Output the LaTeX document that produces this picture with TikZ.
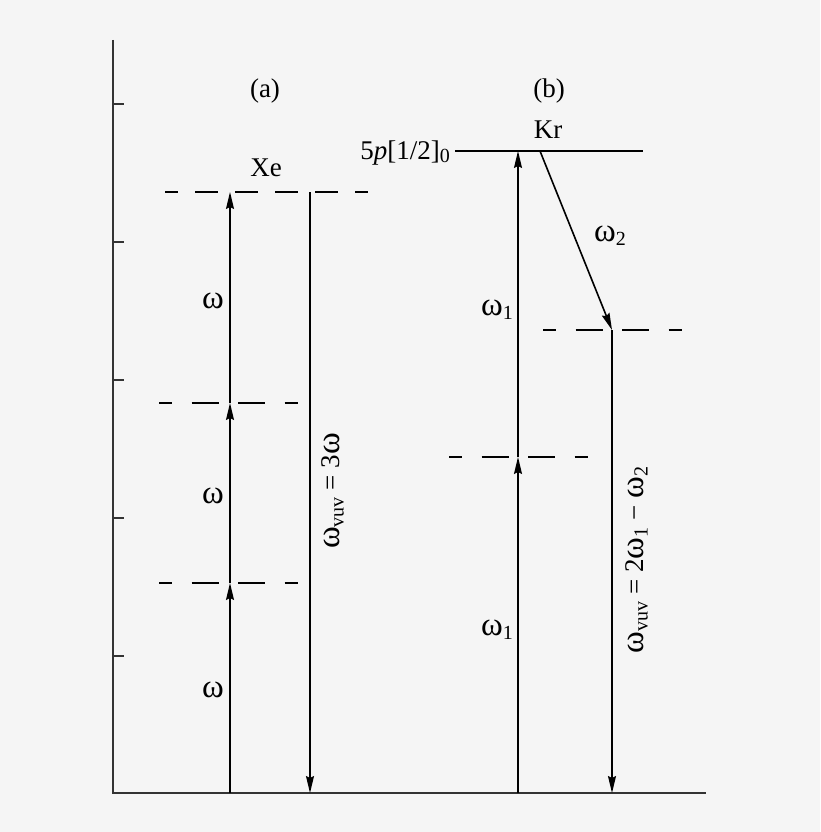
\documentclass[tikz,border=0pt]{standalone}
\usepackage{fontspec}
\setmainfont{Liberation Serif}
\usetikzlibrary{arrows.meta}
\newcommand\om{{\fontsize{33}{36}\selectfont ω}}
\newcommand\sub[1]{\raisebox{-0.3ex}{\fontsize{20}{22}\selectfont #1}}
\tikzset{
  axisline/.style={draw=black!80,line width=1.4pt},
  level/.style={draw=black,line width=1.6pt},
  virtual/.style={draw=black,line width=1.6pt,dash pattern=on 27pt off 19.5pt,dash phase=14pt},
  photon/.style={draw=black,line width=1.6pt,-{Stealth[length=17pt,width=8pt,inset=2pt]}},
  lbl/.style={font=\fontsize{27}{30}\selectfont,inner sep=0pt}
}
\begin{document}
\begin{tikzpicture}[x=1pt,y=-1pt]
  \fill[black!4] (0,0) rectangle (820,832);
  \useasboundingbox (0,0) rectangle (820,832);
  % axes
  \coordinate (top) at (113,40);
  \coordinate (origin) at (113,793);
  \coordinate (right) at (706,793);
  \draw[axisline] (top) -- (origin) -- (right);
  \foreach \y in {104,242,380,518,656}
    \draw[axisline] (113,\y) -- (124,\y);
  % (a) Xe
  \begin{scope}[every node/.style=lbl]
    \node (capa) at (265,91) {(a)};
    \node (xe) at (266,168) {Xe};
    \node (w1) at (213,301) {\om};
    \node (w2) at (213,496) {\om};
    \node (w3) at (213,690) {\om};
    \node[rotate=90] (vuva) at (333,491) {\om\sub{vuv} = 3\om};
  \end{scope}
  \coordinate (a0) at (230,793);
  \coordinate (a1) at (230,583);
  \coordinate (a2) at (230,403);
  \coordinate (a3) at (230,192);
  \coordinate (d3) at (310,192);
  \coordinate (d0) at (310,793);
  \draw[virtual] (159,583) -- (298,583);
  \draw[virtual] (159,403) -- (298,403);
  \draw[virtual,dash pattern=on 23pt off 17pt,dash phase=10pt] (165,192) -- (368,192);
  \begin{scope}[every edge/.style=photon]
    \path (a0) edge (a1);
    \path (a1) edge (a2);
    \path (a2) edge (a3);
    \path (d3) edge (d0);
  \end{scope}
  % (b) Kr
  \begin{scope}[every node/.style=lbl]
    \node (capb) at (549,91) {(b)};
    \node (kr) at (548,130) {Kr};
    \node[anchor=base east] (state) at (450,159) {5\textit{p}[1/2]\sub{0}};
    \node (u1) at (497,310) {\om\sub{1}};
    \node (u2) at (497,630) {\om\sub{1}};
    \node (u3) at (610,236) {\om\sub{2}};
    \node[rotate=90] (vuvb) at (637,560) {\om\sub{vuv} = 2\om\sub{1} − \om\sub{2}};
  \end{scope}
  \coordinate (b0) at (518,793);
  \coordinate (b1) at (518,457);
  \coordinate (b2) at (518,151);
  \coordinate (c2) at (540,151);
  \coordinate (c1) at (612,330);
  \coordinate (c0) at (612,793);
  \draw[level] (455,151) -- (643,151);
  \draw[virtual] (449,457) -- (588,457);
  \draw[virtual] (543,330) -- (682,330);
  \begin{scope}[every edge/.style=photon]
    \path (b0) edge (b1);
    \path (b1) edge (b2);
    \path (c2) edge (c1);
    \path (c1) edge (c0);
  \end{scope}
\end{tikzpicture}
\end{document}
